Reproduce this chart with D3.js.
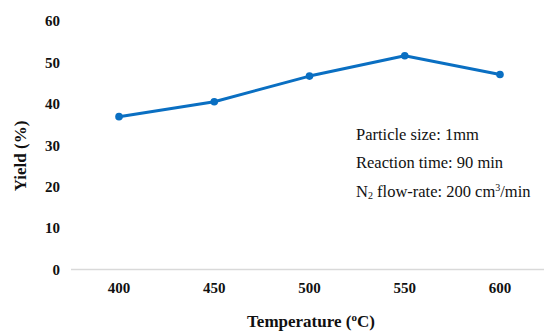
<!DOCTYPE html>
<html><head><meta charset="utf-8">
<script src="https://cdn.jsdelivr.net/npm/d3@7"></script>
<style>body{margin:0;background:#fff}svg{display:block}</style>
</head><body>
<script>
const categories = ["400","450","500","550","600"];
const yieldValues = [36.9, 40.5, 46.7, 51.6, 47.1];
const yTicks = [0,10,20,30,40,50,60];
const notes = ["Particle size: 1mm","Reaction time: 90 min"];

const W=544,H=331;
const svg=d3.select("body").append("svg").attr("width",W).attr("height",H);
const x=d3.scalePoint().domain(categories).range([119,500]);
const y=d3.scaleLinear().domain([0,60]).range([269.5,21]);

svg.append("line").attr("x1",71).attr("x2",548).attr("y1",y(0)).attr("y2",y(0))
  .attr("stroke","#d9d9d9").attr("stroke-width",1.5);

const serif="'Liberation Serif','Times New Roman',serif";
svg.append("g").selectAll("text").data(yTicks).join("text")
  .attr("x",60).attr("y",d=>y(d)).attr("dy","0.35em").attr("text-anchor","end")
  .attr("font-family",serif).attr("font-weight","bold").attr("font-size",15).attr("fill","#111")
  .text(d=>d);
svg.append("g").selectAll("text").data(categories).join("text")
  .attr("x",d=>x(d)).attr("y",288).attr("dy","0.35em").attr("text-anchor","middle")
  .attr("font-family",serif).attr("font-weight","bold").attr("font-size",15).attr("fill","#111")
  .text(d=>d);

svg.append("text").attr("transform","translate(20,156) rotate(-90)").attr("text-anchor","middle")
  .attr("dy","0.35em").attr("font-family",serif).attr("font-weight","bold").attr("font-size",17).attr("fill","#111")
  .text("Yield (%)");
const xt=svg.append("text").attr("x",311).attr("y",327).attr("text-anchor","middle")
  .attr("font-family",serif).attr("font-weight","bold").attr("font-size",17).attr("fill","#111");
xt.append("tspan").text("Temperature (");
xt.append("tspan").attr("font-size",11).attr("dy",-6).text("o");
xt.append("tspan").attr("dy",6).text("C)");

const pts=categories.map((c,i)=>[x(c),y(yieldValues[i])]);
svg.append("path").attr("d",d3.line()(pts)).attr("fill","none")
  .attr("stroke","#0a6fc2").attr("stroke-width",3).attr("stroke-linejoin","round");
svg.append("g").selectAll("circle").data(pts).join("circle")
  .attr("cx",d=>d[0]).attr("cy",d=>d[1]).attr("r",3.8).attr("fill","#0a6fc2");

const ng=svg.append("g").attr("font-family",serif).attr("font-size",16.5).attr("fill","#111");
notes.forEach((t,i)=>ng.append("text").attr("x",356).attr("y",139.5+i*28.5).text(t));
const n3=ng.append("text").attr("x",356).attr("y",197);
n3.append("tspan").text("N");
n3.append("tspan").attr("font-size",10).attr("dy",2).text("2");
n3.append("tspan").attr("dy",-2).text(" flow-rate: 200 cm");
n3.append("tspan").attr("font-size",10).attr("dy",-6).text("3");
n3.append("tspan").attr("dy",6).text("/min");
</script>
</body></html>
